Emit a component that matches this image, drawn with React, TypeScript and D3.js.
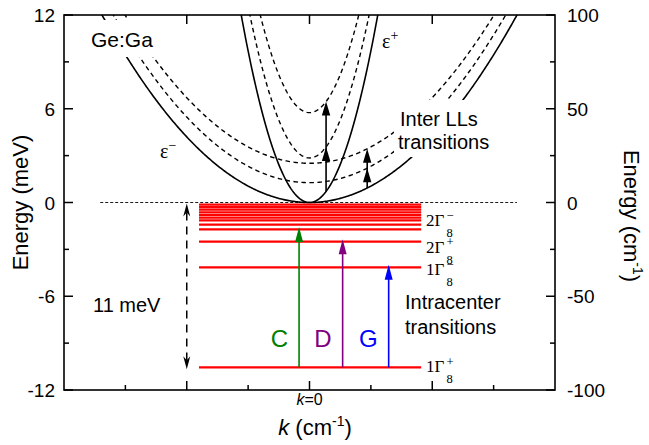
import React from 'react';
import * as d3 from 'd3';

const W = 649;
const H = 445;

// axis ticks
const kMajorTicks = [-2, 0, 2];
const kMinorTicks = [-3, -1, 1, 3];
const energyTicks = [-12, -6, 0, 6, 12];
const energyMinorTicks = [-9, -3, 3, 9];
const wavenumberTicks = [-100, -50, 0, 50, 100];
const wavenumberMinorTicks = [-75, -25, 25, 75];

// Landau-level ladders: band-edge offsets (meV) and curvature (meV per k-unit^2)
const epsPlusOffsets = [0, 2.85, 5.75];
const epsPlusCurvature = 9.7;
const epsMinusOffsets = [0, 1.27, 2.51];
const epsMinusCurvature = 1.05;

// Ga acceptor excited states (meV), densely packed near the valence band edge
const shallowLevels = [-0.13, -0.29, -0.46, -0.63, -0.8, -0.97, -1.14, -1.41];
// labelled acceptor states
const namedLevels = [-1.72, -2.51, -4.15, -10.55];
const namedLevelIndex = ['2', '2', '1', '1'];
const namedLevelParity = ['−', '+', '−', '+'];
const levelSpanK = [-1.8, 1.82];

// intracenter transitions from the ground state
const transitionNames = ['C', 'D', 'G'];
const transitionK = [-0.17, 0.54, 1.29];
const transitionFrom = [-10.55, -10.55, -10.55];
const transitionTo = [-1.72, -2.51, -4.15];
const transitionColors = ['#008000', '#800080', '#0000ff'];

// inter Landau-level transitions: k position and ladder
const interLLk = [0.27, 0.94];
const interLLladder = ['plus', 'minus'];

// ionization energy marker (meV)
const ionizationK = -2;
const ionizationEnergy = [0, -10.55];

const zeroLineSpan = [-3.41, 3.38];

const SANS = '"Liberation Sans", Arial, Helvetica, sans-serif';
const SERIF = '"Liberation Serif", "Times New Roman", serif';

// label baseline offsets relative to each named level line (px)
const namedLabelDy = [-3.3, 10.8, 7.7, 4.7];

export default function App() {
  const left = 64, right = 555, top = 15, bottom = 390;
  const x = d3.scaleLinear().domain([-4, 4]).range([left, right]);
  const y = d3.scaleLinear().domain([-12, 12]).range([bottom, top]);
  const yR = d3.scaleLinear().domain([-100, 100]).range([bottom, top]);

  const ks = d3.range(-4, 4.0001, 0.02);
  const line = d3
    .line<number>()
    .x((k) => x(k))
    .curve(d3.curveLinear);

  const ladderPath = (offset: number, a: number) =>
    line.y((k) => y(offset + a * k * k))(ks) as string;

  const upHead = (cx: number, tip: number, hw = 4, len = 14) =>
    `M${cx},${tip} L${cx - hw},${tip + len} L${cx + hw},${tip + len} Z`;

  const stealthUp = (cx: number, tip: number) =>
    `M${cx},${tip} L${cx - 3.5},${tip + 13} L${cx},${tip + 9} L${cx + 3.5},${tip + 13} Z`;
  const stealthDown = (cx: number, tip: number) =>
    `M${cx},${tip} L${cx - 3.5},${tip - 13} L${cx},${tip - 9} L${cx + 3.5},${tip - 13} Z`;

  const ionX = x(ionizationK);
  const ionTop = y(ionizationEnergy[0]) + 1;
  const ionBot = y(ionizationEnergy[1]) + 2;

  return (
    <svg
      width={W}
      height={H}
      viewBox={`0 0 ${W} ${H}`}
      style={{ position: 'fixed', left: 0, top: 0, background: '#fff' }}
    >
      <defs>
        <clipPath id="plotArea">
          <rect x={left} y={top} width={right - left} height={bottom - top} />
        </clipPath>
      </defs>

      {/* zero-energy reference line */}
      <line
        x1={x(zeroLineSpan[0])}
        x2={x(zeroLineSpan[1])}
        y1={y(0)}
        y2={y(0)}
        stroke="#000"
        strokeWidth={0.9}
        strokeDasharray="3,2"
      />

      {/* Landau-level ladders */}
      <g clipPath="url(#plotArea)" fill="none" stroke="#000">
        {epsMinusOffsets.map((o, i) => (
          <path
            key={'m' + i}
            d={ladderPath(o, epsMinusCurvature)}
            strokeWidth={i === 0 ? 1.6 : 1.4}
            strokeDasharray={i === 0 ? undefined : '4.5,3.5'}
          />
        ))}
        {epsPlusOffsets.map((o, i) => (
          <path
            key={'p' + i}
            d={ladderPath(o, epsPlusCurvature)}
            strokeWidth={i === 0 ? 1.6 : 1.4}
            strokeDasharray={i === 0 ? undefined : '4.5,3.5'}
          />
        ))}
      </g>

      {/* label backdrops */}
      <rect x={84} y={20} width={78} height={37} fill="#fff" />
      <rect x={394} y={100} width={108} height={57} fill="#fff" />

      {/* inter Landau-level arrows */}
      {interLLk.map((k, i) => {
        const offsets = interLLladder[i] === 'plus' ? epsPlusOffsets : epsMinusOffsets;
        const a = interLLladder[i] === 'plus' ? epsPlusCurvature : epsMinusCurvature;
        const base = a * k * k;
        const ys = offsets.map((o) => y(o + base));
        const cx = x(k);
        return (
          <g key={'ll' + i}>
            <line x1={cx} x2={cx} y1={ys[0]} y2={ys[ys.length - 1] + 6} stroke="#000" strokeWidth={1.6} />
            {ys.slice(1).map((yy, j) => (
              <path key={j} d={upHead(cx, yy, 4.2, 14)} fill="#000" />
            ))}
          </g>
        );
      })}

      {/* acceptor levels */}
      <g stroke="#ff0000" strokeWidth={2.2}>
        {shallowLevels.map((e, i) => (
          <line key={'s' + i} x1={x(levelSpanK[0])} x2={x(levelSpanK[1])} y1={y(e)} y2={y(e)} />
        ))}
        {namedLevels.map((e, i) => (
          <line key={'n' + i} x1={x(levelSpanK[0])} x2={x(levelSpanK[1])} y1={y(e)} y2={y(e)} />
        ))}
      </g>

      {/* intracenter transitions */}
      {transitionNames.map((name, i) => {
        const cx = x(transitionK[i]);
        const tip = y(transitionTo[i]) - 2.5;
        return (
          <g key={name}>
            <line x1={cx} x2={cx} y1={y(transitionFrom[i])} y2={tip + 8} stroke={transitionColors[i]} strokeWidth={1.6} />
            <path d={upHead(cx, tip, 4, 15)} fill={transitionColors[i]} />
            <text
              x={cx - 11}
              y={347}
              fontFamily={SANS}
              fontSize={24}
              fill={transitionColors[i]}
              textAnchor="end"
            >
              {name}
            </text>
          </g>
        );
      })}

      {/* ionization energy marker */}
      <line x1={ionX} x2={ionX} y1={ionTop + 9} y2={ionBot - 9} stroke="#000" strokeWidth={1.5} strokeDasharray="8,6" />
      <path d={stealthUp(ionX, ionTop)} fill="#000" />
      <path d={stealthDown(ionX, ionBot)} fill="#000" />
      <text x={93} y={312} fontFamily={SANS} fontSize={20}>
        11 meV
      </text>

      {/* level labels */}
      {namedLevels.map((e, i) => {
        const b = y(e) + namedLabelDy[i];
        return (
          <g key={'lbl' + i} fontFamily={SERIF}>
            <text x={426} y={b} fontSize={17}>
              {namedLevelIndex[i]}Γ
            </text>
            <text x={446.5} y={b + 11} fontSize={12.5}>
              8
            </text>
            <text x={446.5} y={b - 6.5} fontSize={12.5}>
              {namedLevelParity[i]}
            </text>
          </g>
        );
      })}

      {/* annotations */}
      <text x={91} y={47} fontFamily={SANS} fontSize={21}>
        Ge:Ga
      </text>
      <text x={160} y={158} fontFamily={SERIF} fontSize={20}>
        ε
        <tspan fontSize={14} dy={-8}>
          −
        </tspan>
      </text>
      <text x={382} y={48} fontFamily={SERIF} fontSize={20}>
        ε
        <tspan fontSize={14} dy={-8}>
          +
        </tspan>
      </text>
      <text x={400} y={126} fontFamily={SANS} fontSize={20}>
        Inter LLs
      </text>
      <text x={398} y={149} fontFamily={SANS} fontSize={20}>
        transitions
      </text>
      <text x={405} y={309} fontFamily={SANS} fontSize={20}>
        Intracenter
      </text>
      <text x={405} y={334} fontFamily={SANS} fontSize={20}>
        transitions
      </text>

      {/* frame */}
      <rect x={left} y={top} width={right - left} height={bottom - top} fill="none" stroke="#000" strokeWidth={1.6} />

      {/* axes ticks */}
      <g stroke="#000" strokeWidth={1.5}>
        {energyTicks.map((t) => (
          <line key={'lt' + t} x1={left} x2={left + 9} y1={y(t)} y2={y(t)} />
        ))}
        {energyMinorTicks.map((t) => (
          <line key={'lm' + t} x1={left} x2={left + 5} y1={y(t)} y2={y(t)} />
        ))}
        {wavenumberTicks.map((t) => (
          <line key={'rt' + t} x1={right} x2={right - 9} y1={yR(t)} y2={yR(t)} />
        ))}
        {wavenumberMinorTicks.map((t) => (
          <line key={'rm' + t} x1={right} x2={right - 5} y1={yR(t)} y2={yR(t)} />
        ))}
        {kMajorTicks.map((t) => (
          <g key={'bt' + t}>
            <line x1={x(t)} x2={x(t)} y1={bottom} y2={bottom - 9} />
            <line x1={x(t)} x2={x(t)} y1={top} y2={top + 9} />
          </g>
        ))}
        {kMinorTicks.map((t) => (
          <line key={'bm' + t} x1={x(t)} x2={x(t)} y1={bottom} y2={bottom - 5} />
        ))}
      </g>

      <g fontFamily={SANS} fontSize={19}>
        {energyTicks.map((t) => (
          <text key={'ll' + t} x={55} y={y(t) + 7} textAnchor="end">
            {t}
          </text>
        ))}
        {wavenumberTicks.map((t) => (
          <text key={'rl' + t} x={567} y={yR(t) + 7}>
            {t}
          </text>
        ))}
      </g>

      <text x={x(0)} y={405} fontFamily={SANS} fontSize={16} textAnchor="middle">
        <tspan fontStyle="italic">k</tspan>=0
      </text>

      {/* axis titles */}
      <text x={315} y={435} fontFamily={SANS} fontSize={22} textAnchor="middle">
        <tspan fontStyle="italic">k</tspan> (cm
        <tspan fontSize={14} dy={-9}>
          -1
        </tspan>
        <tspan dy={9}>)</tspan>
      </text>
      <text
        transform={`translate(28,${(top + bottom) / 2}) rotate(-90)`}
        fontFamily={SANS}
        fontSize={22}
        textAnchor="middle"
      >
        Energy (meV)
      </text>
      <text
        transform={`translate(624,216) rotate(90)`}
        fontFamily={SANS}
        fontSize={22}
        textAnchor="middle"
      >
        Energy (cm
        <tspan fontSize={14} dy={-9}>
          -1
        </tspan>
        <tspan dy={9}>)</tspan>
      </text>
    </svg>
  );
}
